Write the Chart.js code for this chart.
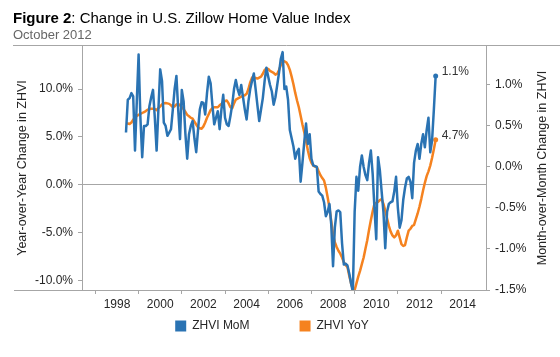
<!DOCTYPE html>
<html><head><meta charset="utf-8">
<script src="https://cdn.jsdelivr.net/npm/chart.js@4.4.0/dist/chart.umd.min.js"></script>
<style>
html,body{margin:0;padding:0;background:#fff;}
#wrap{position:relative;width:560px;height:357px;overflow:hidden;font-family:"Liberation Sans",Arial,sans-serif;}
#title{position:absolute;left:13px;top:9px;font-size:15px;line-height:17px;color:#000;white-space:nowrap;}
#sub{position:absolute;left:13px;top:27px;font-size:13px;line-height:15px;color:#666;white-space:nowrap;}
canvas{position:absolute;left:0;top:0;}
</style></head><body>
<div id="wrap">
<canvas id="c" width="560" height="357"></canvas>
<div id="title"><b>Figure 2</b>: Change in U.S. Zillow Home Value Index</div>
<div id="sub">October 2012</div>
</div>
<script>
// ---- data (monthly, June 1998 .. October 2012) ----
const startYear = 1998;
const startMonth = 6;
const seriesNames = ['ZHVI MoM', 'ZHVI YoY'];
const momValues = [
 0.42,0.82,0.84,0.90,0.86,0.20,0.80,1.37,0.60,0.12,0.50,0.50,
 0.52,0.74,0.85,0.94,0.60,0.20,0.70,1.19,1.05,0.54,0.50,0.38,
 0.42,0.46,0.70,0.95,1.11,0.70,0.34,0.94,0.80,0.40,0.10,0.40,
 0.50,0.56,0.35,0.18,0.45,0.70,0.79,0.78,0.64,0.90,1.10,1.02,
 0.75,0.52,0.60,0.68,0.46,0.70,0.88,0.60,0.52,0.50,0.62,0.76,
 0.95,1.06,0.95,0.88,1.00,0.85,0.70,0.58,0.80,0.95,1.05,1.14,
 0.95,0.75,0.56,0.70,0.84,1.05,1.21,1.10,1.00,0.92,0.76,0.85,
 1.00,1.15,1.32,1.40,0.95,0.98,0.82,0.45,0.35,0.25,0.10,0.18,
 0.22,-0.18,0.05,0.30,0.53,0.28,0.40,0.10,0.02,0.01,0.00,-0.30,
 -0.33,-0.35,-0.43,-0.60,-0.55,-0.45,-0.70,-1.21,-0.74,-0.54,-0.53,-0.55,
 -0.93,-1.19,-1.18,-1.20,-1.30,-1.42,-1.52,-0.55,-0.12,-0.29,0.00,0.14,
 0.00,-0.10,-0.16,0.05,0.20,-0.08,-0.50,-0.88,0.12,-0.04,-0.30,-0.55,
 -0.99,-0.55,-0.45,-0.43,-0.42,-0.30,-0.12,-0.50,-0.74,-0.65,-0.40,-0.25,
 -0.14,-0.12,-0.18,-0.38,0.05,0.20,0.28,0.10,0.28,0.40,0.24,0.45,
 0.60,0.18,0.32,0.70,1.11
];
const yoyValues = [
 6.4,6.4,6.35,6.5,6.8,7.0,7.2,7.3,7.4,7.5,7.6,7.7,
 7.85,7.9,7.95,7.95,7.9,7.8,8.0,8.2,8.4,8.5,8.55,8.5,
 8.45,8.3,8.1,8.2,8.4,8.45,8.3,8.1,7.9,7.6,7.3,7.15,
 7.0,6.9,6.6,6.3,6.0,5.9,5.86,6.1,6.5,7.0,7.4,7.8,
 8.0,8.1,8.1,8.1,8.3,8.45,8.6,8.75,8.8,8.5,8.1,8.0,
 8.5,8.9,9.0,9.1,9.2,9.3,9.35,9.5,10.0,10.7,11.2,11.2,
 11.15,11.1,11.2,11.3,11.6,12.0,12.15,12.1,11.9,11.8,11.7,11.5,
 11.6,12.0,12.5,12.85,12.9,12.8,12.5,12.0,11.3,10.5,9.6,8.8,
 8.1,7.2,6.3,5.5,4.6,3.6,2.8,2.3,2.0,1.9,1.85,1.4,
 1.0,0.7,0.45,-0.3,-1.3,-2.4,-3.8,-5.2,-6.0,-6.5,-6.9,-7.2,
 -7.6,-8.1,-8.4,-8.6,-9.5,-10.3,-10.9,-11.0,-10.3,-9.6,-9.0,-8.3,
 -7.6,-6.7,-5.8,-4.7,-3.7,-2.8,-2.0,-1.9,-1.8,-1.6,-1.5,-2.0,
 -2.7,-3.5,-4.3,-4.9,-5.3,-5.5,-5.3,-4.8,-5.5,-6.2,-6.4,-6.3,
 -5.5,-4.8,-4.6,-4.3,-4.2,-3.6,-3.0,-2.3,-1.5,-0.6,0.2,0.9,
 1.4,2.0,2.8,3.7,4.7
];
const yearTicks = [1997,1998,1999,2000,2001,2002,2003,2004,2005,2006,2007,2008,2009,2010,2011,2012,2013,2014];
const yoyTicks = [-10,-5,0,5,10];
const momTicks = [-1.5,-1.0,-0.5,0,0.5,1.0];
const titles = {
  left: 'Year-over-Year Change in ZHVI',
  right: 'Month-over-Month Change in ZHVI'
};

// ---- styling ----
const BLUE = '#2a73b3';
const ORANGE = '#f5821f';
const GRAY = '#a6a6a6';
const TEXT = '#262626';
const FONT = '"Liberation Sans", Arial, sans-serif';
Chart.defaults.font.family = FONT;
Chart.defaults.color = TEXT;

const monthX = momValues.map((_, i) => startYear + (startMonth - 1 + i) / 12);
const toPoints = arr => arr.map((v, i) => ({x: monthX[i], y: v}));
const lastIdx = n => (c => c.dataIndex === n - 1 ? 2.5 : 0);

const framePlugin = {
  id: 'frame',
  afterDraw(chart) {
    const {ctx, chartArea: a} = chart;
    ctx.save();
    ctx.strokeStyle = GRAY;
    ctx.lineWidth = 1;
    ctx.beginPath();
    ctx.moveTo(13, a.top - 0.5); ctx.lineTo(chart.width, a.top - 0.5);
    ctx.moveTo(14, a.bottom + 0.5); ctx.lineTo(a.right, a.bottom + 0.5);
    ctx.stroke();
    // right axis title, reading bottom-to-top
    const t = chart.options.scales.yR.title;
    ctx.translate(chart.width - 17, (a.top + a.bottom) / 2);
    ctx.rotate(-Math.PI / 2);
    ctx.font = '12.5px ' + FONT;
    ctx.fillStyle = TEXT;
    ctx.textAlign = 'center';
    ctx.textBaseline = 'middle';
    ctx.fillText(t.text, 0, 0);
    ctx.restore();
  }
};
const endLabelPlugin = {
  id: 'endLabels',
  afterDatasetsDraw(chart) {
    const {ctx} = chart;
    ctx.save();
    ctx.font = '12px ' + FONT;
    ctx.fillStyle = '#333';
    ctx.textAlign = 'left';
    ctx.textBaseline = 'middle';
    chart.data.datasets.forEach((ds, i) => {
      const meta = chart.getDatasetMeta(i);
      const pt = meta.data[meta.data.length - 1];
      const v = ds.data[ds.data.length - 1].y;
      ctx.fillText(v.toFixed(1) + '%', pt.x + 6, pt.y - 4.5);
    });
    ctx.restore();
  }
};
const legendPlace = {
  id: 'legendPlace',
  afterLayout(chart) {
    const lg = chart.legend;
    if (!lg) return;
    lg.top = 270; lg.bottom = chart.height; lg.height = chart.height - 270;
    lg.left -= 8; lg.right -= 8;
  }
};

new Chart(document.getElementById('c'), {
  type: 'line',
  data: {
    datasets: [
      {label: seriesNames[0], data: toPoints(momValues), yAxisID: 'yR',
       borderColor: BLUE, backgroundColor: BLUE, borderWidth: 2.5,
       pointRadius: lastIdx(momValues.length), pointHoverRadius: 0,
       pointBackgroundColor: BLUE, pointBorderWidth: 0,
       borderJoinStyle: 'round', tension: 0},
      {label: seriesNames[1], data: toPoints(yoyValues), yAxisID: 'yL',
       borderColor: ORANGE, backgroundColor: ORANGE, borderWidth: 2.5,
       pointRadius: lastIdx(yoyValues.length), pointHoverRadius: 0,
       pointBackgroundColor: ORANGE, pointBorderWidth: 0,
       borderJoinStyle: 'round', tension: 0}
    ]
  },
  options: {
    responsive: false,
    devicePixelRatio: 1,
    animation: false,
    events: [],
    layout: {padding: {top: 46, left: 0, right: 0, bottom: 0}},
    plugins: {
      tooltip: {enabled: false},
      legend: {
        position: 'bottom',
        maxHeight: 10,
        labels: {
          boxWidth: 11, boxHeight: 11, padding: 50, color: TEXT,
          font: {size: 12},
          generateLabels(chart) {
            const items = Chart.defaults.plugins.legend.labels.generateLabels(chart);
            items.forEach(it => { it.lineWidth = 0; });
            return items;
          }
        }
      }
    },
    scales: {
      x: {
        type: 'linear', min: 1996.38, max: 2015.08,
        afterBuildTicks: s => { s.ticks = yearTicks.map(v => ({value: v})); },
        afterFit: s => { s.height = 57; },
        ticks: {autoSkip: false, maxRotation: 0, padding: 3, color: TEXT, font: {size: 12},
                callback: v => (v % 2 === 0 ? String(v) : '')},
        grid: {drawOnChartArea: false, drawTicks: true, tickLength: 4,
               color: c => (c.tick && c.tick.value % 2 !== 0 ? GRAY : 'transparent'),
               tickColor: c => (c.tick && c.tick.value % 2 !== 0 ? GRAY : 'transparent')},
        border: {display: false}
      },
      yL: {
        type: 'linear', position: 'left', min: -11, max: 14.5,
        afterBuildTicks: s => { s.ticks = yoyTicks.map(v => ({value: v})); },
        afterFit: s => { s.width = 82; },
        ticks: {padding: 5, color: TEXT, font: {size: 12}, callback: v => v.toFixed(1) + '%'},
        grid: {drawTicks: true, tickLength: 4, tickColor: GRAY,
               color: c => (c.tick && c.tick.value === 0 ? GRAY : 'transparent')},
        border: {display: true, color: GRAY, width: 1},
        title: {display: true, text: titles.left, color: TEXT, font: {size: 12.5}, padding: {top: 15.5, bottom: 0}}
      },
      yR: {
        type: 'linear', position: 'right', min: -1.5, max: 1.475,
        afterBuildTicks: s => { s.ticks = momTicks.map(v => ({value: v})); },
        afterFit: s => { s.width = 74; },
        ticks: {padding: 5, color: TEXT, font: {size: 12}, callback: v => v.toFixed(1) + '%'},
        grid: {drawOnChartArea: false, drawTicks: true, tickLength: 4, tickColor: GRAY, color: GRAY},
        border: {display: true, color: GRAY, width: 1},
        title: {display: false, text: titles.right}
      }
    }
  },
  plugins: [framePlugin, endLabelPlugin, legendPlace]
});
</script>
</body></html>
